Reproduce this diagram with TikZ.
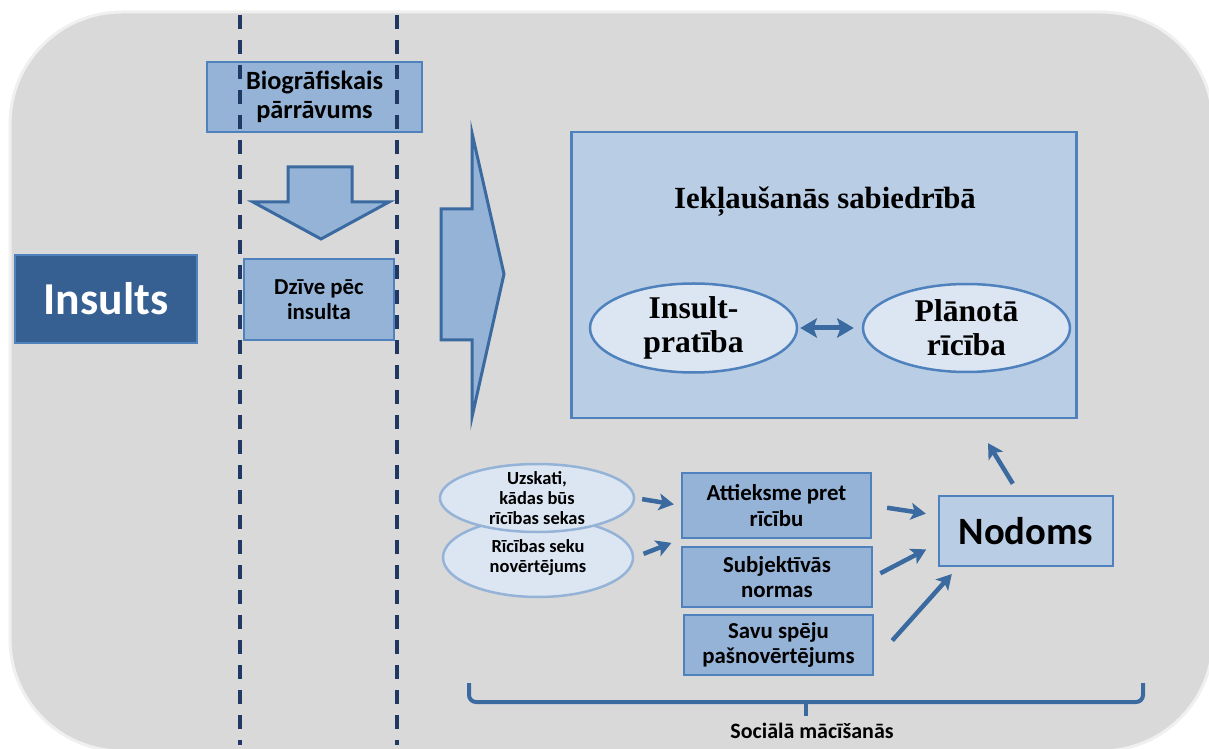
\documentclass[tikz,border=0pt]{standalone}
\usepackage{fontspec}
\setmainfont{Liberation Serif}
\newfontfamily\carl{Carlito}
\usepackage{xcolor}
\definecolor{bggray}{HTML}{D9D9D9}
\definecolor{midblue}{HTML}{95B3D7}
\definecolor{edgeblue}{HTML}{4F81BD}
\definecolor{lightblue}{HTML}{B9CDE5}
\definecolor{paleblue}{HTML}{DCE6F2}
\definecolor{darkblue}{HTML}{376092}
\definecolor{navy}{HTML}{203864}
\definecolor{arrowblue}{HTML}{3A6A9F}
\usepackage{tikz}
\usetikzlibrary{arrows.meta,shapes.geometric}
\newlength{\px}
\setlength{\px}{0.02cm}
\tikzstyle{stepbox} = [rectangle, draw=edgeblue, fill=midblue, line width=2.5\px,
  inner sep=0pt, align=center, font=\carl\bfseries]
\tikzstyle{goalbox} = [stepbox, fill=lightblue]
\tikzstyle{bigoval} = [ellipse, draw=edgeblue, fill=paleblue, line width=2.5\px,
  inner sep=0pt, align=center, font=\bfseries\fontsize{18}{19.5}\selectfont]
\tikzstyle{smalloval} = [ellipse, draw=midblue, fill=paleblue, line width=2.5\px,
  inner xsep=0pt, inner ysep=-8\px, align=center,
  font=\carl\bfseries\fontsize{10.5}{11.3}\selectfont]
\tikzstyle{link} = [draw=arrowblue, line width=4.5\px,
  -{Stealth[length=8.5pt,width=9.5pt,inset=2pt]}]
\tikzstyle{blockarrow} = [draw=arrowblue, fill=midblue, line width=3\px, line join=miter]
\tikzstyle{border} = [draw=navy, line width=3.5\px, dash pattern=on 14\px off 11\px]

\begin{document}
\begin{tikzpicture}[x=0.02cm, y=-0.02cm]
  \useasboundingbox (0,0) rectangle (1209,749);
  \fill[white] (0,0) rectangle (1209,749);
  \path[fill=bggray, draw=black!6, line width=3\px, rounded corners=112\px]
    (10,12) rectangle (1213,751);

  % left column
  \node[stepbox, fill=darkblue, text=white, minimum width=182\px, minimum height=88\px,
    font=\carl\bfseries\fontsize{26}{30}\selectfont] (insults) at (106,299) {Insults};
  \node[stepbox, minimum width=215\px, minimum height=70\px,
    font=\carl\bfseries\fontsize{15}{16.5}\selectfont] (bio) at (314.5,97)
    {Biogrāfiskais\\pārrāvums};
  \node[stepbox, minimum width=150\px, minimum height=81\px,
    font=\carl\bfseries\fontsize{13}{14.5}\selectfont] (dzive) at (319,299.5)
    {Dzīve pēc\\insulta};
  \path[blockarrow] (288,167) -- (352,167) -- (352,202) -- (389,202) -- (321,239)
    -- (253,202) -- (288,202) -- cycle;
  \path[blockarrow] (441,209) -- (472,209) -- (472,133) -- (504,274) -- (472,417)
    -- (472,340) -- (441,340) -- cycle;
  \draw[border] (240,15) -- (240,745);
  \draw[border] (397,15) -- (397,745);

  % integration
  \node[goalbox, minimum width=505\px, minimum height=286\px] (box) at (824,275) {};
  \node[anchor=base, font=\bfseries\fontsize{17.5}{19}\selectfont] (title) at (825,209)
    {Iekļaušanās sabiedrībā};
  \node[bigoval, minimum width=207\px, minimum height=88\px] (ins) at (693.5,328)
    {Insult-\\pratība};
  \node[bigoval, minimum width=207\px, minimum height=88\px] (plan) at (966.5,328)
    {Plānotā\\rīcība};
  \path[draw=arrowblue, line width=5\px, shorten <=2\px, shorten >=8\px,
    {Stealth[length=9.5pt,width=11pt,inset=2pt]}-{Stealth[length=9.5pt,width=11pt,inset=2pt]}]
    (ins.east) -- (plan.west);

  % intention
  \node[smalloval, minimum width=190\px, minimum height=79\px] (rseku) at (538,557.5)
    {Rīcības seku\\novērtējums};
  \node[smalloval, minimum width=194\px, minimum height=68\px] (uzsk) at (537,498)
    {Uzskati,\\kādas būs\\rīcības sekas};
  \node[stepbox, minimum width=189\px, minimum height=65\px,
    font=\carl\bfseries\fontsize{13}{14.5}\selectfont] (att) at (776.5,505.5)
    {Attieksme pret\\rīcību};
  \node[stepbox, minimum width=190\px, minimum height=60\px,
    font=\carl\bfseries\fontsize{13}{14.5}\selectfont] (subj) at (777,577)
    {Subjektīvās\\normas};
  \node[stepbox, minimum width=189\px, minimum height=60\px,
    font=\carl\bfseries\fontsize{13}{14.5}\selectfont] (savu) at (778.5,645)
    {Savu spēju\\pašnovērtējums};
  \node[goalbox, minimum width=174\px, minimum height=70\px,
    font=\carl\bfseries\fontsize{22}{26}\selectfont] (nod) at (1026,531) {Nodoms};

  \path[link, shorten <=7\px, shorten >=7\px] (uzsk.east) -- (att.west);
  \path[link, shorten <=10\px, shorten >=10\px] (rseku.east) -- (att.south west);
  \path[link, shorten <=15\px, shorten >=12\px] (att.east) -- (nod.170);
  \path[link, shorten <=8\px, shorten >=13\px] (subj.east) -- (nod.188);
  \path[link, shorten <=6\px, shorten >=9\px] ([xshift=14\px]savu.east) -- (nod.208);
  \path[link, shorten <=13\px, shorten >=28\px] (nod.100) -- (box.-44);

  % brace
  \draw[arrowblue, line width=4\px, rounded corners=7\px]
    (469,683) |- (1143,702) -- (1143,683);
  \draw[arrowblue, line width=4\px] (806,702) -- (806,716);
  \node[anchor=base, font=\carl\bfseries\fontsize{12.5}{15}\selectfont] (social)
    at (812,738) {Sociālā mācīšanās};
\end{tikzpicture}
\end{document}
